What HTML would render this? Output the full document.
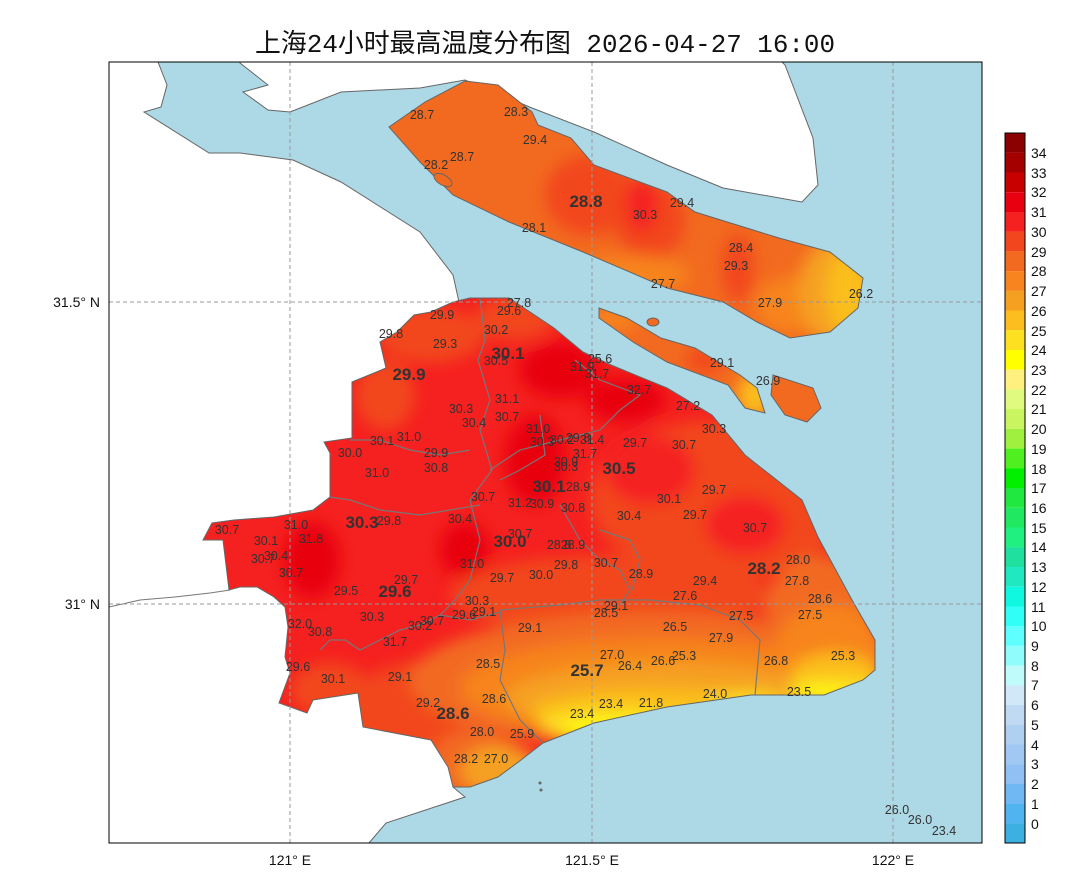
<!DOCTYPE html>
<html><head><meta charset="utf-8"><style>
html,body{margin:0;padding:0;background:#fff;}
svg{display:block;}
text{font-family:"Liberation Sans","Noto Sans CJK SC",sans-serif;}
.l{font-size:12.5px;fill:#333;text-anchor:middle;}
.b{font-size:17px;font-weight:bold;fill:#333;text-anchor:middle;}
.t{font-family:"Liberation Mono","Noto Sans CJK SC",monospace;font-size:14px;fill:#111;}
.c{font-family:"Liberation Sans",sans-serif;font-size:14px;fill:#111;}
</style></head><body>
<svg width="1080" height="889" viewBox="0 0 1080 889" xmlns="http://www.w3.org/2000/svg">
<defs>
<filter id="bl" x="-20%" y="-20%" width="140%" height="140%"><feGaussianBlur stdDeviation="8"/></filter>
<clipPath id="cm"><path d="M470,298 L509,298 L554,328 L583,352 L611,365 L667,388 L712,415 L745,455 L802,500 L818,537 L852,600 L875,640 L875,670 L863,680 L824,695 L751,695 L667,707 L594,723 L543,743 L521,760 L498,777 L470,787 L453,787 L448,767 L431,740 L363,727 L358,693 L313,700 L307,713 L279,703 L290,673 L285,657 L288,627 L285,607 L274,597 L257,587 L240,587 L229,590 L223,540 L203,540 L212,523 L234,520 L274,517 L313,510 L330,497 L330,453 L324,442 L352,438 L352,382 L386,368 L380,342 L397,332 L414,315 L431,312 L453,302 Z"/></clipPath>
<clipPath id="cc"><path d="M465,81 L498,85 L532,112 L538,125 L571,138 L594,165 L667,192 L695,212 L779,238 L830,252 L863,278 L858,308 L830,332 L790,338 L757,322 L723,302 L667,288 L583,252 L509,222 L453,195 L420,162 L389,127 L425,102 Z"/></clipPath>
<clipPath id="cx"><path d="M599,308 L627,318 L661,338 L695,348 L740,375 L757,388 L765,413 L745,408 L728,385 L667,362 L633,342 L599,318 Z"/></clipPath>
<clipPath id="ch"><path d="M773,375 L813,388 L821,408 L807,422 L785,415 L771,395 Z"/></clipPath>
<clipPath id="mapc"><rect x="109" y="62" width="873" height="781"/></clipPath>
</defs>
<text x="545" y="52" text-anchor="middle" style="font-family:'Liberation Mono','Noto Sans CJK SC',monospace;font-size:26px;fill:#111" textLength="580" lengthAdjust="spacingAndGlyphs">上海24小时最高温度分布图 2026-04-27 16:00</text>
<g clip-path="url(#mapc)">
<rect x="109" y="62" width="873" height="781" fill="#add8e6"/>
<path d="M109,62 L158,62 L167,85 L161,107 L144,112 L209,153 L240,153 L293,160 L341,182 L420,232 L453,275 L459,302 L470,298 L600,500 L453,787 L465,797 L386,823 L369,843 L109,843 Z" fill="#fff" stroke="#666" stroke-width="1"/>
<path d="M240,62 L240,63 L268,85 L243,92 L268,110 L290,112 L341,92 L420,88 L465,80 L532,108 L594,132 L667,165 L723,188 L802,202 L818,185 L813,138 L785,65 L782,62 Z" fill="#fff" stroke="#666" stroke-width="1"/>
<polyline points="109,607 140,600 175,597 210,593 230,590" fill="none" stroke="#777" stroke-width="1"/>
<g clip-path="url(#cc)">
<rect x="380" y="75" width="500" height="270" fill="#f26a20"/>
<g filter="url(#bl)">
<ellipse cx="590" cy="195" rx="45" ry="40" fill="#f2461e"/>
<ellipse cx="650" cy="220" rx="35" ry="40" fill="#f2461e"/>
<ellipse cx="642" cy="205" rx="16" ry="28" fill="#f52020"/>
<ellipse cx="738" cy="268" rx="16" ry="34" fill="#f2461e"/>
<ellipse cx="630" cy="275" rx="60" ry="20" fill="#f7841e"/>
<ellipse cx="790" cy="305" rx="35" ry="28" fill="#f7841e"/>
<ellipse cx="838" cy="292" rx="40" ry="55" fill="#f5a020"/>
<ellipse cx="848" cy="292" rx="22" ry="42" fill="#fbbe1e"/>
</g></g>
<path d="M465,81 L498,85 L532,112 L538,125 L571,138 L594,165 L667,192 L695,212 L779,238 L830,252 L863,278 L858,308 L830,332 L790,338 L757,322 L723,302 L667,288 L583,252 L509,222 L453,195 L420,162 L389,127 L425,102 Z" fill="none" stroke="#666" stroke-width="1"/>
<ellipse cx="443" cy="180" rx="10" ry="5" transform="rotate(30 443 180)" fill="#f26a20" stroke="#666" stroke-width="1"/>
<g clip-path="url(#cx)">
<rect x="595" y="300" width="175" height="120" fill="#f26a20"/>
<g filter="url(#bl)"><ellipse cx="615" cy="318" rx="25" ry="12" fill="#f7841e"/><ellipse cx="755" cy="395" rx="18" ry="22" fill="#fbbe1e"/><ellipse cx="705" cy="360" rx="20" ry="12" fill="#f2461e"/></g>
</g>
<path d="M599,308 L627,318 L661,338 L695,348 L740,375 L757,388 L765,413 L745,408 L728,385 L667,362 L633,342 L599,318 Z" fill="none" stroke="#666" stroke-width="1"/>
<g clip-path="url(#ch)"><rect x="765" y="370" width="60" height="60" fill="#f26a20"/></g>
<path d="M773,375 L813,388 L821,408 L807,422 L785,415 L771,395 Z" fill="none" stroke="#666" stroke-width="1"/>
<ellipse cx="653" cy="322" rx="6" ry="4" fill="#f26a20" stroke="#666" stroke-width="1"/>
<g clip-path="url(#cm)">
<rect x="190" y="290" width="700" height="510" fill="#f52020"/>
<g filter="url(#bl)">
<ellipse cx="430" cy="335" rx="55" ry="28" fill="#f2461e"/>
<ellipse cx="515" cy="318" rx="40" ry="22" fill="#f2461e"/>
<ellipse cx="385" cy="395" rx="30" ry="35" fill="#f2461e"/>
<ellipse cx="720" cy="500" rx="130" ry="80" fill="#f2461e"/>
<ellipse cx="560" cy="370" rx="40" ry="28" fill="#e8000f"/>
<ellipse cx="625" cy="400" rx="40" ry="22" fill="#e8000f"/>
<ellipse cx="535" cy="460" rx="30" ry="45" fill="#e8000f"/>
<ellipse cx="465" cy="550" rx="25" ry="28" fill="#e8000f"/>
<ellipse cx="312" cy="560" rx="28" ry="38" fill="#e8000f"/>
<ellipse cx="650" cy="470" rx="45" ry="35" fill="#f52020"/>
<ellipse cx="745" cy="525" rx="40" ry="30" fill="#f52020"/>
<ellipse cx="610" cy="595" rx="160" ry="40" fill="#f2461e"/>
<ellipse cx="430" cy="720" rx="90" ry="60" fill="#f2461e"/>
<ellipse cx="330" cy="690" rx="40" ry="28" fill="#f2461e"/>
<ellipse cx="650" cy="680" rx="240" ry="68" fill="#f26a20"/>
<ellipse cx="470" cy="765" rx="40" ry="35" fill="#f26a20"/>
<ellipse cx="820" cy="610" rx="55" ry="55" fill="#f26a20"/>
<ellipse cx="660" cy="688" rx="200" ry="50" fill="#f7841e"/>
<ellipse cx="830" cy="650" rx="55" ry="45" fill="#f7841e"/>
<ellipse cx="670" cy="698" rx="165" ry="36" fill="#f5a020"/>
<ellipse cx="500" cy="770" rx="40" ry="25" fill="#f5a020"/>
<ellipse cx="650" cy="712" rx="120" ry="24" fill="#fbbe1e"/>
<ellipse cx="835" cy="675" rx="45" ry="22" fill="#fbbe1e"/>
<ellipse cx="620" cy="724" rx="80" ry="17" fill="#fde020"/>
<ellipse cx="835" cy="690" rx="45" ry="12" fill="#fde020"/>
<ellipse cx="745" cy="700" rx="40" ry="8" fill="#fde020"/>
<ellipse cx="612" cy="732" rx="50" ry="11" fill="#ffff00"/>
<ellipse cx="820" cy="694" rx="30" ry="6" fill="#ffff00"/>
</g>
<g fill="none" stroke="#777" stroke-width="1.2">
<polyline points="480,298 485,340 478,360 490,400 480,430 492,470 470,500 480,540 470,580 455,600 440,615 420,625 400,630 380,640 360,650 345,640 330,640 320,650"/>
<polyline points="330,497 350,500 380,510 420,515 450,510 480,505"/>
<polyline points="500,610 560,605 600,600 650,600 700,605 740,620 760,640 755,695"/>
<polyline points="500,610 505,650 500,680 520,720 540,740 555,760"/>
<polyline points="440,615 470,620 500,612"/>
<polyline points="490,470 520,450 560,440 600,430 620,410 640,395 600,380 575,360"/>
<polyline points="540,415 545,455 520,470 500,480"/>
<polyline points="560,505 580,540 600,560 620,570 630,590 620,605"/>
<polyline points="600,530 630,540 640,560 632,590"/>
<polyline points="350,440 380,440 410,450 440,455 470,450"/>
</g>
</g>
<path d="M470,298 L509,298 L554,328 L583,352 L611,365 L667,388 L712,415 L745,455 L802,500 L818,537 L852,600 L875,640 L875,670 L863,680 L824,695 L751,695 L667,707 L594,723 L543,743 L521,760 L498,777 L470,787 L453,787 L448,767 L431,740 L363,727 L358,693 L313,700 L307,713 L279,703 L290,673 L285,657 L288,627 L285,607 L274,597 L257,587 L240,587 L229,590 L223,540 L203,540 L212,523 L234,520 L274,517 L313,510 L330,497 L330,453 L324,442 L352,438 L352,382 L386,368 L380,342 L397,332 L414,315 L431,312 L453,302 Z" fill="none" stroke="#666" stroke-width="1"/>
<g fill="#666"><circle cx="540" cy="783" r="1.5"/><circle cx="541" cy="790" r="1.5"/></g>
<g stroke="#999" stroke-width="1" stroke-dasharray="4,3">
<line x1="290" y1="62" x2="290" y2="843"/><line x1="592" y1="62" x2="592" y2="843"/><line x1="893" y1="62" x2="893" y2="843"/>
<line x1="109" y1="302" x2="982" y2="302"/><line x1="109" y1="604" x2="982" y2="604"/>
</g>
<g class="l">
<text x="422" y="119">28.7</text><text x="516" y="116">28.3</text><text x="535" y="144">29.4</text><text x="462" y="161">28.7</text><text x="436" y="169">28.2</text>
<text x="645" y="219">30.3</text><text x="682" y="207">29.4</text><text x="534" y="232">28.1</text><text x="741" y="252">28.4</text><text x="736" y="270">29.3</text><text x="663" y="288">27.7</text><text x="770" y="307">27.9</text><text x="861" y="298">26.2</text>
<text x="519" y="307">27.8</text><text x="509" y="315">29.6</text><text x="442" y="319">29.9</text><text x="496" y="334">30.2</text><text x="391" y="338">29.8</text><text x="445" y="348">29.3</text><text x="496" y="365">30.5</text><text x="600" y="363">25.6</text><text x="582" y="371">31.9</text><text x="597" y="378">31.7</text><text x="722" y="367">29.1</text><text x="768" y="385">26.9</text><text x="639" y="394">32.7</text><text x="507" y="403">31.1</text><text x="688" y="410">27.2</text><text x="461" y="413">30.3</text><text x="507" y="421">30.7</text><text x="474" y="427">30.4</text><text x="714" y="433">30.3</text><text x="538" y="433">31.0</text>
<text x="382" y="445">30.1</text><text x="409" y="441">31.0</text><text x="542" y="446">30.3</text><text x="562" y="444">30.2</text><text x="578" y="442">29.8</text><text x="592" y="444">31.4</text><text x="635" y="447">29.7</text><text x="684" y="449">30.7</text><text x="350" y="457">30.0</text><text x="436" y="457">29.9</text><text x="585" y="458">31.7</text><text x="566" y="466">30.9</text><text x="566" y="471">30.3</text><text x="436" y="472">30.8</text><text x="377" y="477">31.0</text><text x="578" y="491">28.9</text><text x="714" y="494">29.7</text><text x="483" y="501">30.7</text><text x="669" y="503">30.1</text><text x="520" y="507">31.2</text><text x="542" y="508">30.9</text><text x="573" y="512">30.8</text><text x="629" y="520">30.4</text><text x="695" y="519">29.7</text><text x="460" y="523">30.4</text><text x="389" y="525">29.8</text><text x="296" y="529">31.0</text><text x="227" y="534">30.7</text><text x="755" y="532">30.7</text><text x="266" y="545">30.1</text><text x="311" y="543">31.8</text><text x="520" y="538">30.7</text><text x="276" y="560">30.4</text><text x="263" y="563">30.7</text><text x="559" y="549">28.8</text><text x="573" y="549">28.9</text><text x="798" y="564">28.0</text><text x="472" y="568">31.0</text><text x="606" y="567">30.7</text><text x="566" y="569">29.8</text><text x="291" y="577">30.7</text><text x="541" y="579">30.0</text><text x="502" y="582">29.7</text><text x="641" y="578">28.9</text><text x="406" y="584">29.7</text><text x="705" y="585">29.4</text><text x="797" y="585">27.8</text><text x="346" y="595">29.5</text><text x="685" y="600">27.6</text><text x="820" y="603">28.6</text><text x="477" y="605">30.3</text><text x="484" y="616">29.1</text><text x="464" y="619">29.6</text><text x="616" y="610">29.1</text><text x="606" y="617">28.5</text><text x="741" y="620">27.5</text><text x="810" y="619">27.5</text><text x="372" y="621">30.3</text><text x="432" y="625">30.7</text><text x="420" y="630">30.2</text><text x="300" y="628">32.0</text><text x="320" y="636">30.8</text><text x="530" y="632">29.1</text><text x="675" y="631">26.5</text><text x="721" y="642">27.9</text><text x="395" y="646">31.7</text><text x="612" y="659">27.0</text><text x="684" y="660">25.3</text><text x="630" y="670">26.4</text><text x="663" y="665">26.6</text><text x="776" y="665">26.8</text><text x="843" y="660">25.3</text><text x="488" y="668">28.5</text><text x="298" y="671">29.6</text><text x="333" y="683">30.1</text><text x="400" y="681">29.1</text><text x="715" y="698">24.0</text><text x="799" y="696">23.5</text><text x="494" y="703">28.6</text><text x="428" y="707">29.2</text><text x="611" y="708">23.4</text><text x="651" y="707">21.8</text><text x="582" y="718">23.4</text><text x="482" y="736">28.0</text><text x="522" y="738">25.9</text><text x="466" y="763">28.2</text><text x="496" y="763">27.0</text>
<text x="897" y="814">26.0</text><text x="920" y="824">26.0</text><text x="944" y="835">23.4</text>
</g>
<g class="b">
<text x="586" y="207">28.8</text><text x="508" y="359">30.1</text><text x="409" y="380">29.9</text><text x="619" y="474">30.5</text><text x="549" y="492">30.1</text><text x="362" y="528">30.3</text><text x="510" y="547">30.0</text><text x="764" y="574">28.2</text><text x="395" y="597">29.6</text><text x="587" y="676">25.7</text><text x="453" y="719">28.6</text>
</g>
</g>
<rect x="109" y="62" width="873" height="781" fill="none" stroke="#000" stroke-width="1"/>
<g class="t">
<text x="290" y="865" text-anchor="middle">121° E</text>
<text x="592" y="865" text-anchor="middle">121.5° E</text>
<text x="893" y="865" text-anchor="middle">122° E</text>
<text x="100" y="307" text-anchor="end">31.5° N</text>
<text x="100" y="609" text-anchor="end">31° N</text>
</g>
<g>
<rect x="1005" y="133.0" width="20" height="19.8" fill="#8b0000"/><rect x="1005" y="152.7" width="20" height="19.8" fill="#a50000"/><rect x="1005" y="172.4" width="20" height="19.8" fill="#c80000"/><rect x="1005" y="192.2" width="20" height="19.8" fill="#e80010"/><rect x="1005" y="211.9" width="20" height="19.8" fill="#f52020"/><rect x="1005" y="231.6" width="20" height="19.8" fill="#f2461e"/><rect x="1005" y="251.3" width="20" height="19.8" fill="#f26a20"/><rect x="1005" y="271.1" width="20" height="19.8" fill="#f7841e"/><rect x="1005" y="290.8" width="20" height="19.8" fill="#f5a020"/><rect x="1005" y="310.5" width="20" height="19.8" fill="#fbbe1e"/><rect x="1005" y="330.2" width="20" height="19.8" fill="#fde020"/><rect x="1005" y="350.0" width="20" height="19.8" fill="#ffff00"/><rect x="1005" y="369.7" width="20" height="19.8" fill="#fff080"/><rect x="1005" y="389.4" width="20" height="19.8" fill="#e0fa80"/><rect x="1005" y="409.1" width="20" height="19.8" fill="#c8f560"/><rect x="1005" y="428.9" width="20" height="19.8" fill="#a0f040"/><rect x="1005" y="448.6" width="20" height="19.8" fill="#50f020"/><rect x="1005" y="468.3" width="20" height="19.8" fill="#00f000"/><rect x="1005" y="488.0" width="20" height="19.8" fill="#20e840"/><rect x="1005" y="507.8" width="20" height="19.8" fill="#20e860"/><rect x="1005" y="527.5" width="20" height="19.8" fill="#20f080"/><rect x="1005" y="547.2" width="20" height="19.8" fill="#20e0a0"/><rect x="1005" y="566.9" width="20" height="19.8" fill="#20e8c0"/><rect x="1005" y="586.7" width="20" height="19.8" fill="#10f8e0"/><rect x="1005" y="606.4" width="20" height="19.8" fill="#30fff8"/><rect x="1005" y="626.1" width="20" height="19.8" fill="#60ffff"/><rect x="1005" y="645.8" width="20" height="19.8" fill="#90fcfc"/><rect x="1005" y="665.6" width="20" height="19.8" fill="#c0fbfb"/><rect x="1005" y="685.3" width="20" height="19.8" fill="#d0e8f8"/><rect x="1005" y="705.0" width="20" height="19.8" fill="#c0daf4"/><rect x="1005" y="724.7" width="20" height="19.8" fill="#b0d0f2"/><rect x="1005" y="744.5" width="20" height="19.8" fill="#a0c8f2"/><rect x="1005" y="764.2" width="20" height="19.8" fill="#90c0f4"/><rect x="1005" y="783.9" width="20" height="19.8" fill="#70b8f4"/><rect x="1005" y="803.6" width="20" height="19.8" fill="#50b4f0"/><rect x="1005" y="823.4" width="20" height="19.6" fill="#3cb0e0"/>
<rect x="1005" y="133" width="20" height="710" fill="none" stroke="#000" stroke-width="1"/>
</g>
<g class="c">
<text x="1031" y="158">34</text><text x="1031" y="178">33</text><text x="1031" y="197">32</text><text x="1031" y="217">31</text><text x="1031" y="237">30</text><text x="1031" y="257">29</text><text x="1031" y="276">28</text><text x="1031" y="296">27</text><text x="1031" y="316">26</text><text x="1031" y="336">25</text><text x="1031" y="355">24</text><text x="1031" y="375">23</text><text x="1031" y="395">22</text><text x="1031" y="414">21</text><text x="1031" y="434">20</text><text x="1031" y="454">19</text><text x="1031" y="474">18</text><text x="1031" y="493">17</text><text x="1031" y="513">16</text><text x="1031" y="533">15</text><text x="1031" y="552">14</text><text x="1031" y="572">13</text><text x="1031" y="592">12</text><text x="1031" y="612">11</text><text x="1031" y="631">10</text><text x="1031" y="651">9</text><text x="1031" y="671">8</text><text x="1031" y="690">7</text><text x="1031" y="710">6</text><text x="1031" y="730">5</text><text x="1031" y="750">4</text><text x="1031" y="769">3</text><text x="1031" y="789">2</text><text x="1031" y="809">1</text><text x="1031" y="829">0</text>
</g>
</svg>
</body></html>
